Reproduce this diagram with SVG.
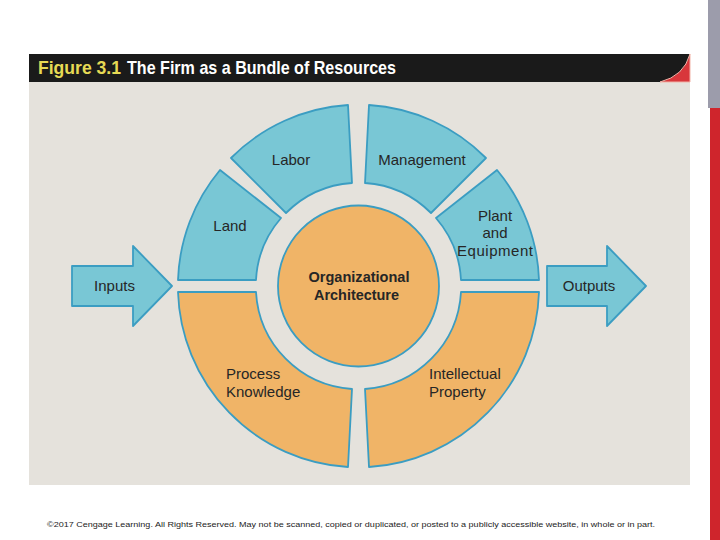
<svg xmlns="http://www.w3.org/2000/svg" width="720" height="540" viewBox="0 0 720 540">
<style>
.seg-b{fill:#79c7d5;stroke:#3b9dc2;stroke-width:1.8;stroke-linejoin:round}
.seg-o{fill:#f0b467;stroke:#3b9dc2;stroke-width:1.8;stroke-linejoin:round}
.lbl{font-family:"Liberation Sans",Arial,sans-serif;font-size:15px;fill:#262626}
.bold{font-weight:bold}
</style>
<rect x="0" y="0" width="720" height="540" fill="#ffffff"/>
<rect x="708" y="0" width="12" height="108" fill="#9c9cab"/>
<rect x="710" y="108" width="10" height="432" fill="#cf252c"/>
<rect x="29" y="82" width="661" height="403" fill="#e5e2dc"/>
<g id="title">
<rect x="29" y="54" width="661" height="28" fill="#1a1a1a"/>
<path d="M660,82 Q684,76 690,54 L690,82 Z" fill="#d8373b" stroke="#f2b3a8" stroke-width="1"/>
<text x="38" y="74" font-family="'Liberation Sans',Arial,sans-serif" font-weight="bold" font-size="19" fill="#e6da55" textLength="83" lengthAdjust="spacingAndGlyphs">Figure 3.1</text>
<text x="127" y="74" font-family="'Liberation Sans',Arial,sans-serif" font-weight="bold" font-size="19" fill="#ffffff" textLength="269" lengthAdjust="spacingAndGlyphs">The Firm as a Bundle of Resources</text>
</g>
<g id="connectors">
<g id="inputs">
<polygon points="72,266 133,266 133,246 172,286 133,326 133,306 72,306" class="seg-b"/>
<text class="lbl" x="114.5" y="291" text-anchor="middle">Inputs</text>
</g>
<g id="outputs">
<polygon points="547,266 607,266 607,246 646,286 607,326 607,306 547,306" class="seg-b"/>
<text class="lbl" x="589" y="291" text-anchor="middle">Outputs</text>
</g>
</g>
<g id="land">
<path class="seg-b" d="M178,280 A181,181 0 0 1 220,170 L281,218 A103,103 0 0 0 256,280 Z"/>
<text class="lbl" x="230" y="231" text-anchor="middle">Land</text>
</g>
<g id="labor">
<path class="seg-b" d="M231,158 A181,181 0 0 1 348,105 L352,183 A103,103 0 0 0 286,213 Z"/>
<text class="lbl" x="291" y="165" text-anchor="middle">Labor</text>
</g>
<g id="management">
<path class="seg-b" d="M369,105 A181,181 0 0 1 486,158 L431,213 A103,103 0 0 0 365,183 Z"/>
<text class="lbl" x="422" y="165" text-anchor="middle">Management</text>
</g>
<g id="plant">
<path class="seg-b" d="M497,170 A181,181 0 0 1 539,280 L461,280 A103,103 0 0 0 436,218 Z"/>
<text class="lbl" x="495" y="221" text-anchor="middle">Plant</text>
<text class="lbl" x="495" y="238" text-anchor="middle">and</text>
<text class="lbl" x="495" y="256" text-anchor="middle" textLength="76">Equipment</text>
</g>
<g id="process">
<path class="seg-o" d="M178,292 A181,181 0 0 0 348,467 L352,389 A103,103 0 0 1 256,292 Z"/>
<text class="lbl" x="226" y="379">Process</text>
<text class="lbl" x="226" y="397">Knowledge</text>
</g>
<g id="intellectual">
<path class="seg-o" d="M539,292 A181,181 0 0 1 369,467 L365,389 A103,103 0 0 0 461,292 Z"/>
<text class="lbl" x="429" y="379">Intellectual</text>
<text class="lbl" x="429" y="397">Property</text>
</g>
<g id="architecture">
<circle class="seg-o" cx="358.5" cy="286" r="80.5"/>
<text class="lbl bold" x="359" y="282" text-anchor="middle" font-size="14" textLength="101" lengthAdjust="spacingAndGlyphs">Organizational</text>
<text class="lbl bold" x="356.5" y="300" text-anchor="middle" font-size="14" textLength="85" lengthAdjust="spacingAndGlyphs">Architecture</text>
</g>
<text x="47" y="527" font-family="'Liberation Sans',Arial,sans-serif" font-size="8" fill="#222" textLength="608" lengthAdjust="spacingAndGlyphs">©2017 Cengage Learning. All Rights Reserved. May not be scanned, copied or duplicated, or posted to a publicly accessible website, in whole or in part.</text>
</svg>
